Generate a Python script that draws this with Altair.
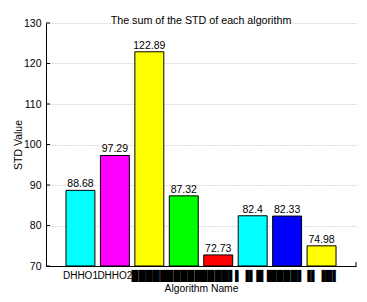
import altair as alt
import pandas as pd

# ---- data ----
names = ["DHHO1", "DHHO2", "█████", "█████", "████▌", "▌▐▌█▐", "████▌", "▐▌▐█▌"]
values = [88.68, 97.29, 122.89, 87.32, 72.73, 82.4, 82.33, 74.98]
value_labels = ["88.68", "97.29", "122.89", "87.32", "72.73", "82.4", "82.33", "74.98"]
colors = ["#00FFFF", "#FF00FF", "#FFFF00", "#00FF00", "#FF0000", "#00FFFF", "#0000FF", "#FFFF00"]
y_ticks = [70, 80, 90, 100, 110, 120, 130]
y_domain = [70, 130]

FONT = "Liberation Sans"

df = pd.DataFrame({
    "idx": list(range(len(names))),
    "value": values,
    "label": value_labels,
    "color": colors,
})
tick_df = pd.DataFrame({"t": y_ticks})

names_js = "[" + ",".join("'" + n + "'" for n in names) + "]"

x_scale = alt.Scale(paddingInner=0.16, paddingOuter=0.58)
y_scale = alt.Scale(domain=y_domain, zero=False, nice=False)

x_axis = alt.Axis(
    title="Algorithm Name", labelExpr=names_js + "[datum.value]", labelAngle=0,
    ticks=False, labelPadding=4, labelFontSize=10, labelColor="black",
    titleFontSize=10.3, titleFontWeight="normal", titleColor="black", titlePadding=3,
    domainColor="black", grid=False, labelFont=FONT, titleFont=FONT, labelOverlap=False,
)
y_axis = alt.Axis(
    title="STD Value", values=y_ticks, ticks=False, labelPadding=5, labelFontSize=10.5,
    labelColor="black", titleFontSize=10.5, titleFontWeight="normal", titleColor="black",
    titlePadding=0, domainColor="black", grid=True, gridDash=[1, 2], gridColor="#b8b8b8",
    labelFont=FONT, titleFont=FONT,
)

bars = alt.Chart(df).mark_bar(stroke="black", strokeWidth=1).encode(
    x=alt.X("idx:O", scale=x_scale, axis=x_axis),
    y=alt.Y("value:Q", scale=y_scale, axis=y_axis),
    y2=alt.datum(70),
    color=alt.Color("color:N", scale=None),
)

texts = alt.Chart(df).mark_text(
    baseline="bottom", dy=-1, fontSize=10.5, font=FONT, color="black"
).encode(
    x=alt.X("idx:O", scale=x_scale, axis=x_axis),
    y=alt.Y("value:Q", scale=y_scale, axis=y_axis),
    text="label:N",
)

inner_ticks = alt.Chart(tick_df).mark_rule(color="black", strokeWidth=1).encode(
    y=alt.Y("t:Q", scale=y_scale, axis=y_axis),
    x=alt.value(0),
    x2=alt.value(4),
)

end_tick = alt.Chart(pd.DataFrame({"t": [70]})).mark_rule(color="black", strokeWidth=1).encode(
    x=alt.value(310),
    y=alt.value(243),
    y2=alt.value(239),
)

chart = alt.layer(bars, texts, inner_ticks, end_tick).properties(
    width=310,
    height=243,
    title=alt.TitleParams(
        "The sum of the STD of each algorithm", fontSize=10.7, fontWeight="normal",
        font=FONT, color="black", offset=0, dy=9, anchor="middle",
    ),
    autosize=alt.AutoSizeParams(type="none"),
    padding={"left": 38, "top": 15, "right": 3, "bottom": 28},
).configure_view(stroke=None)

chart.save("out.html", embed_options={"renderer": "svg", "actions": False})
